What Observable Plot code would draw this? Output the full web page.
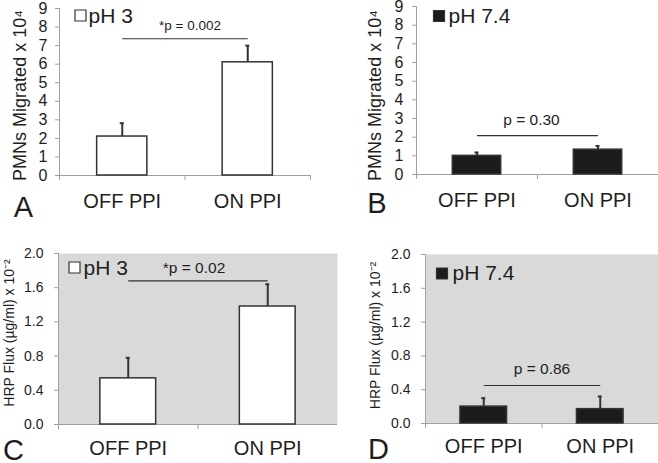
<!DOCTYPE html>
<html><head><meta charset="utf-8">
<script src="https://cdn.jsdelivr.net/npm/d3@7"></script>
<script src="https://cdn.jsdelivr.net/npm/@observablehq/plot@0.6"></script>
<style>
html,body{margin:0;padding:0;background:#fff;}
#chart{position:relative;width:658px;height:463px;overflow:hidden;font-family:"Liberation Sans",Arial,sans-serif;}
#chart > svg{position:absolute;}
</style></head><body><div id="chart"></div>
<script>
const categories = ["OFF PPI", "ON PPI"];
const pmnPH3 = [2.1, 6.1];
const pmnPH3Err = [0.72, 0.9];
const pmnPH74 = [1.0, 1.33];
const pmnPH74Err = [0.18, 0.2];
const hrpPH3 = [0.54, 1.38];
const hrpPH3Err = [0.24, 0.26];
const hrpPH74 = [0.2, 0.17];
const hrpPH74Err = [0.1, 0.15];
const pmnTicks = [0, 1, 2, 3, 4, 5, 6, 7, 8, 9];
const hrpTicks = [0, 0.4, 0.8, 1.2, 1.6, 2.0];
const sigLevels = [7.37, 2.08, 1.68, 0.45];
const pLabels = ["*p = 0.002", "p = 0.30", "*p = 0.02", "p = 0.86"];
const legendLabels = ["pH 3", "pH 7.4", "pH 3", "pH 7.4"];
const panelLetters = ["A", "B", "C", "D"];
const pmnLabel = "PMNs Migrated x 10⁴";
const hrpLabel = "HRP Flux (µg/ml) x 10⁻²";

const TEXT = "#1e1e1e", AXIS = "#a0a0a0", INK = "#333";
const FONT = '"Liberation Sans", Arial, sans-serif';

function panel(c) {
  const data = categories.map((cat, i) => ({cat, v: c.values[i], top: c.values[i] + c.errors[i]}));
  const fw = c.width - c.ml - c.mr, fh = c.height - c.mt - c.mb;
  const step = fw / 2, bw = step * 0.4;
  const marks = [];
  if (c.shaded) marks.push(Plot.frame({fill: "#d9d9d9", stroke: null}));
  marks.push(Plot.ruleX([categories[0]], {dx: -step / 2, stroke: AXIS, insetBottom: -5}));
  marks.push(Plot.ruleX([categories[0]], {dx: step / 2, stroke: AXIS, insetTop: fh, insetBottom: -5}));
  if (c.rightTick) marks.push(Plot.ruleX([categories[1]], {dx: step / 2, stroke: AXIS, insetTop: fh, insetBottom: -5}));
  marks.push(Plot.ruleY([0], {stroke: AXIS}));
  marks.push(Plot.axisY(c.ticks, {tickSize: 4, tickPadding: c.ytp, stroke: AXIS, fill: TEXT, fontSize: c.tickFont, tickFormat: c.fmt, label: null}));
  marks.push(Plot.axisX({tickSize: 0, tickPadding: c.xtp, fill: TEXT, fontSize: 20, label: null}));
  marks.push(Plot.barY(data, {x: "cat", y: "v", fill: c.dark ? "#1c1c1c" : "#fff", stroke: INK, strokeWidth: 1.5}));
  marks.push(Plot.ruleX(data, {x: "cat", y1: "v", y2: "top", stroke: INK, strokeWidth: 2}));
  marks.push(Plot.tickY(data, {x: "cat", y: "top", stroke: INK, strokeWidth: 2, insetLeft: bw / 2 - 2, insetRight: bw / 2 - 2}));
  marks.push(Plot.link([{y: c.sig}], {x1: () => categories[0], x2: () => categories[1], y1: "y", y2: "y", stroke: INK, strokeWidth: 1.2}));
  marks.push(Plot.text([{y: c.sig, t: c.pLabel}], {y: "y", text: "t", dx: c.pdx, dy: c.pdy, fontSize: c.pFont, fill: TEXT, textAnchor: "middle", lineAnchor: "middle"}));
  marks.push(Plot.dot([c.legend], {frameAnchor: "top-left", dx: c.ldx, dy: c.ldy, symbol: "square", r: 6.2, fill: c.dark ? "#1c1c1c" : "#fff", stroke: INK, strokeWidth: 1.2}));
  marks.push(Plot.text([c.legend], {frameAnchor: "top-left", text: d => d, dx: c.ltdx, dy: c.ltdy, textAnchor: "start", lineAnchor: "middle", fontSize: 21, fill: TEXT}));
  marks.push(Plot.text([c.yLabel], {frameAnchor: "left", text: d => d, rotate: -90, dx: c.yldx, dy: c.yldy, textAnchor: "middle", lineAnchor: "middle", fontSize: c.ylFont, fill: TEXT}));
  marks.push(Plot.text([c.letter], {frameAnchor: "bottom-left", text: d => d, dx: c.adx, dy: c.ady, textAnchor: "middle", lineAnchor: "middle", fontSize: 29, fill: TEXT}));
  const svg = Plot.plot({
    width: c.width, height: c.height,
    marginLeft: c.ml, marginRight: c.mr, marginTop: c.mt, marginBottom: c.mb,
    style: {fontFamily: FONT, background: "transparent", overflow: "visible", color: TEXT},
    x: {type: "band", domain: categories, paddingInner: 0.6, paddingOuter: 0.3, round: false, axis: null},
    y: {domain: c.yDomain, axis: null},
    marks
  });
  svg.style.left = c.left + "px";
  svg.style.top = c.top + "px";
  document.getElementById("chart").appendChild(svg);
}

const fmt1 = d3.format(".1f");
panel({values: pmnPH3, errors: pmnPH3Err, ticks: pmnTicks, yDomain: [0, 9], fmt: d3.format("d"), tickFont: 16, ytp: 8,
  yLabel: pmnLabel, ylFont: 18, yldx: -39, yldy: 3.5, sig: sigLevels[0], pLabel: pLabels[0], pFont: 13.5, pdx: 5, pdy: -13,
  legend: legendLabels[0], ldx: 21, ldy: 7, ltdx: 29, ltdy: 8, letter: panelLetters[0], adx: -36, ady: 32,
  dark: false, shaded: false, rightTick: true, xtp: 18,
  left: 0, top: 0, width: 330, height: 230, ml: 59, mt: 8, mb: 55, mr: 20});
panel({values: pmnPH74, errors: pmnPH74Err, ticks: pmnTicks, yDomain: [0, 9], fmt: d3.format("d"), tickFont: 16, ytp: 9,
  yLabel: pmnLabel, ylFont: 18, yldx: -41, yldy: 5, sig: sigLevels[1], pLabel: pLabels[1], pFont: 15.5, pdx: -6, pdy: -16,
  legend: legendLabels[1], ldx: 22.5, ldy: 9.5, ltdx: 32, ltdy: 9.5, letter: panelLetters[1], adx: -39.5, ady: 29,
  dark: true, shaded: false, rightTick: false, xtp: 18.5,
  left: 330, top: 0, width: 328, height: 230, ml: 86, mt: 6, mb: 56, mr: 0});
panel({values: hrpPH3, errors: hrpPH3Err, ticks: hrpTicks, yDomain: [0, 2], fmt: fmt1, tickFont: 14, ytp: 11,
  yLabel: hrpLabel, ylFont: 14, yldx: -49, yldy: -6, sig: sigLevels[2], pLabel: pLabels[2], pFont: 15.5, pdx: -4, pdy: -13,
  legend: legendLabels[2], ldx: 16, ldy: 14, ltdx: 25, ltdy: 14.5, letter: panelLetters[2], adx: -45, ady: 26,
  dark: false, shaded: true, rightTick: false, xtp: 16,
  left: 0, top: 230, width: 337, height: 233, ml: 58, mt: 23, mb: 39, mr: 0});
panel({values: hrpPH74, errors: hrpPH74Err, ticks: hrpTicks, yDomain: [0, 2], fmt: fmt1, tickFont: 14, ytp: 11,
  yLabel: hrpLabel, ylFont: 14, yldx: -50, yldy: -3.5, sig: sigLevels[3], pLabel: pLabels[3], pFont: 15.5, pdx: 0, pdy: -16,
  legend: legendLabels[3], ldx: 16.5, ldy: 19, ltdx: 27, ltdy: 18.5, letter: panelLetters[3], adx: -47, ady: 26,
  dark: true, shaded: true, rightTick: false, xtp: 15,
  left: 337, top: 230, width: 321, height: 233, ml: 88, mt: 24, mb: 40, mr: 0});
</script>
</body></html>
